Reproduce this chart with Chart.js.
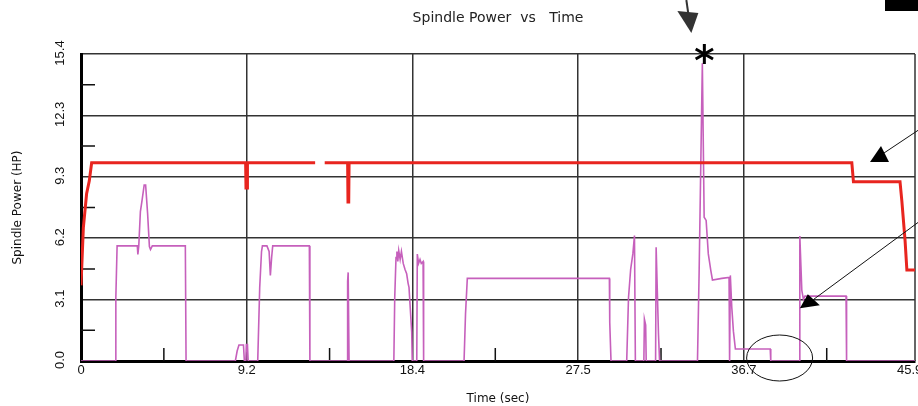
<!DOCTYPE html>
<html>
<head>
<meta charset="utf-8">
<title>Spindle Power vs Time</title>
<script src="https://cdn.jsdelivr.net/npm/chart.js@4.4.1/dist/chart.umd.min.js"></script>
<style>
  html, body { margin: 0; padding: 0; background: #fff; overflow: hidden; }
  #wrap { width: 930px; height: 406px; }
</style>
</head>
<body>
<div id="wrap"><canvas id="spindle" width="930" height="406"></canvas></div>
<script>
// measured spindle power (HP) against time (s)
var powerTime = [0, 1.90, 1.93, 2.00, 3.12, 3.15, 3.20, 3.29, 3.38, 3.50, 3.58, 3.69, 3.79, 3.85, 3.95, 5.78, 5.82,
  8.55, 8.65, 8.75, 9.00, 9.05, 9.13, 9.16, 9.22, 9.26,
  9.79, 9.90, 10.00, 10.05, 10.30, 10.42, 10.49, 10.56, 10.62, 12.65, 12.68,
  14.74, 14.77, 14.80, 14.85,
  17.33, 17.38, 17.45, 17.50, 17.55, 17.60, 17.68, 17.75, 17.85, 17.95, 18.04, 18.12, 18.17, 18.32, 18.35,
  18.60, 18.63, 18.70, 18.78, 18.85, 18.95, 18.98,
  21.22, 21.30, 21.40, 29.27, 29.29, 29.36,
  30.23, 30.33, 30.45, 30.57, 30.66, 30.71,
  31.18, 31.21, 31.28, 31.31,
  31.83, 31.86, 31.99, 32.05,
  34.15, 34.24, 34.42, 34.52, 34.63, 34.75, 34.89, 34.98, 35.50, 35.90, 35.93, 35.97, 36.05, 36.14, 36.25, 38.18, 38.21,
  39.78, 39.82, 39.93, 40.02, 40.10, 42.38, 42.41,
  46.2];
var powerHP = [0, 0, 3.2, 5.78, 5.78, 5.35, 5.78, 7.5, 8.05, 8.84, 8.84, 7.4, 5.75, 5.6, 5.78, 5.78, 0,
  0, 0.5, 0.8, 0.8, 0, 0, 0.82, 0.82, 0,
  0, 3.7, 5.5, 5.78, 5.78, 5.5, 4.3, 5.2, 5.78, 5.78, 0,
  0, 4.0, 4.45, 0,
  0, 3.2, 5.2, 5.5, 5.0, 5.55, 5.1, 5.5, 4.9, 4.6, 4.38, 3.9, 3.7, 1.45, 0,
  0, 5.37, 4.9, 5.1, 4.9, 5.0, 0,
  0, 2.35, 4.15, 4.15, 1.95, 0,
  0, 3.19, 4.62, 5.38, 6.3, 0,
  0, 2.1, 1.8, 0,
  0, 5.71, 1.35, 0,
  0, 4.37, 14.95, 7.22, 7.06, 5.38, 4.54, 4.07, 4.15, 4.2, 0, 4.3, 2.7, 1.5, 0.6, 0.6, 0,
  0, 6.28, 3.55, 3.1, 3.26, 3.26, 0,
  0];

// available power limit (HP), null = gap in the trace
var limitTime = [0, 0.13, 0.31, 0.46, 0.59, 9.12, 9.14, 9.20, 9.22, 12.97, 13.20, 13.50,
  14.77, 14.79, 14.83, 14.85, 42.70, 42.79, 45.37, 45.47, 45.65, 45.75, 46.2];
var limitHP = [3.8, 6.7, 8.4, 9.05, 9.96, 9.96, 8.69, 8.69, 9.96, 9.96, null, 9.96,
  9.96, 7.99, 7.99, 9.96, 9.96, 9.0, 9.0, 8.06, 6.05, 4.57, 4.57];

var xTicks = [0, 9.18, 18.36, 27.54, 36.72, 45.9];
var yTicks = [0, 3.084, 6.168, 9.252, 12.336, 15.42];

function pts(t, v) {
  return t.map(function (x, i) { return { x: x, y: v[i] }; });
}
function mids(arr) {
  var out = [];
  for (var i = 0; i < arr.length - 1; i++) out.push((arr[i] + arr[i + 1]) / 2);
  return out;
}

var tickFont = { family: '"Liberation Sans", Arial, sans-serif', size: 13 };
var labelFont = { family: '"DejaVu Sans", sans-serif', size: 12 };

var decor = {
  id: 'decor',
  beforeDatasetsDraw: function (chart) {
    var ctx = chart.ctx, a = chart.chartArea, x = chart.scales.x, y = chart.scales.y;
    ctx.save();
    ctx.strokeStyle = '#111';
    ctx.lineWidth = 1.5;
    ctx.beginPath();
    mids(xTicks).forEach(function (m) {
      var px = x.getPixelForValue(m);
      ctx.moveTo(px, a.bottom);
      ctx.lineTo(px, a.bottom - 13);
    });
    mids(yTicks).forEach(function (m) {
      var py = y.getPixelForValue(m);
      ctx.moveTo(a.left, py);
      ctx.lineTo(a.left + 14, py);
    });
    ctx.stroke();
    // right frame
    ctx.strokeStyle = '#333';
    ctx.beginPath();
    ctx.moveTo(a.right, a.top);
    ctx.lineTo(a.right, a.bottom);
    ctx.stroke();
    ctx.restore();
  },
  afterDraw: function (chart) {
    var ctx = chart.ctx, a = chart.chartArea, x = chart.scales.x, y = chart.scales.y;
    ctx.save();
    // rotated y tick labels
    ctx.fillStyle = '#111';
    ctx.font = '13px "Liberation Sans", Arial, sans-serif';
    ctx.textAlign = 'center';
    ctx.textBaseline = 'middle';
    yTicks.forEach(function (v) {
      ctx.save();
      ctx.translate(a.left - 21, y.getPixelForValue(v) - 1);
      ctx.rotate(-Math.PI / 2);
      ctx.fillText(v.toFixed(1), 0, 0);
      ctx.restore();
    });

    // asterisk on the peak
    var sx = x.getPixelForValue(34.42) + 2, sy = a.top;
    ctx.strokeStyle = '#000';
    ctx.lineWidth = 3;
    ctx.beginPath();
    for (var k = 0; k < 3; k++) {
      var ang = Math.PI / 2 + k * Math.PI / 3;
      ctx.moveTo(sx + Math.cos(ang) * 10, sy + Math.sin(ang) * 10);
      ctx.lineTo(sx - Math.cos(ang) * 10, sy - Math.sin(ang) * 10);
    }
    ctx.stroke();

    // arrow from above pointing at the peak
    ctx.strokeStyle = '#333';
    ctx.fillStyle = '#333';
    ctx.lineWidth = 2;
    ctx.beginPath();
    ctx.moveTo(sx - 18, 0);
    ctx.lineTo(sx - 16, 14);
    ctx.stroke();
    ctx.beginPath();
    ctx.moveTo(sx - 27, 11);
    ctx.lineTo(sx - 6, 13);
    ctx.lineTo(sx - 13, 33);
    ctx.closePath();
    ctx.fill();

    // black block top right
    ctx.fillStyle = '#000';
    ctx.fillRect(885, 0, 40, 11);

    // arrow towards the reduced limit
    ctx.strokeStyle = '#111';
    ctx.lineWidth = 1;
    ctx.beginPath();
    ctx.moveTo(920, 129);
    ctx.lineTo(884, 153);
    ctx.stroke();
    ctx.beginPath();
    ctx.moveTo(870, 162);
    ctx.lineTo(889, 162);
    ctx.lineTo(881, 146);
    ctx.closePath();
    ctx.fill();

    // arrow towards the low plateau
    var tx = x.getPixelForValue(39.82), ty = y.getPixelForValue(2.65);
    ctx.beginPath();
    ctx.moveTo(920, 221);
    ctx.lineTo(tx + 14, ty - 9);
    ctx.stroke();
    ctx.beginPath();
    ctx.moveTo(tx, ty);
    ctx.lineTo(tx + 8, ty - 14);
    ctx.lineTo(tx + 20, ty - 3);
    ctx.closePath();
    ctx.fill();

    // ellipse round the idle section
    ctx.lineWidth = 1;
    ctx.beginPath();
    ctx.ellipse(x.getPixelForValue(38.7), a.bottom - 3, 33, 23, 0, 0, Math.PI * 2);
    ctx.stroke();
    ctx.restore();
  }
};

var config = {
  type: 'line',
  data: {
    datasets: [
      {
        label: 'Limit',
        data: pts(limitTime, limitHP),
        borderColor: '#e8251f',
        borderWidth: 3,
        pointRadius: 0,
        tension: 0,
        spanGaps: false,
      },
      {
        label: 'Spindle Power',
        data: pts(powerTime, powerHP),
        borderColor: '#c660bc',
        borderWidth: 1.6,
        pointRadius: 0,
        tension: 0,
      },
    ],
  },
  options: {
    responsive: false,
    animation: false,
    devicePixelRatio: 1,
    layout: { padding: { left: 0, right: 15, top: 0, bottom: 0 } },
    plugins: {
      legend: { display: false },
      tooltip: { enabled: false },
      title: {
        display: true,
        text: 'Spindle Power  vs   Time',
        color: '#222',
        fullSize: false,
        font: { family: '"DejaVu Sans", sans-serif', size: 14, weight: 'normal' },
        padding: { top: 10, bottom: 27.2 },
      },
    },
    scales: {
      x: {
        type: 'linear',
        min: 0,
        max: 46.2,
        afterBuildTicks: function (scale) {
          scale.ticks = xTicks.map(function (v) { return { value: v }; });
        },
        afterFit: function (scale) { scale.height = 45; },
        ticks: {
          color: '#111',
          font: tickFont,
          padding: 2,
          maxRotation: 0,
          autoSkip: false,
          callback: function (value) { return value === 0 ? '0' : value.toFixed(1); },
        },
        grid: {
          drawTicks: false,
          lineWidth: 1.5,
          color: function (ctx) {
            return ctx.tick && ctx.tick.value === 45.9 ? 'rgba(0,0,0,0)' : '#333';
          },
        },
        border: { display: true, color: '#000', width: 3 },
        title: { display: true, text: 'Time (sec)', color: '#111', font: labelFont, padding: { top: 0, bottom: 0 } },
      },
      y: {
        type: 'linear',
        min: 0,
        max: 15.42,
        afterBuildTicks: function (scale) {
          scale.ticks = yTicks.map(function (v) { return { value: v }; });
        },
        afterFit: function (scale) { scale.width = 81; },
        ticks: { display: false },
        grid: { drawTicks: false, lineWidth: 1.5, color: '#333' },
        border: { display: true, color: '#000', width: 3 },
        title: { display: true, text: 'Spindle Power (HP)', color: '#111', font: labelFont, padding: { top: 11, bottom: 0 } },
      },
    },
  },
  plugins: [decor],
};

var chart = new Chart(document.getElementById('spindle'), config);
</script>
</body>
</html>
